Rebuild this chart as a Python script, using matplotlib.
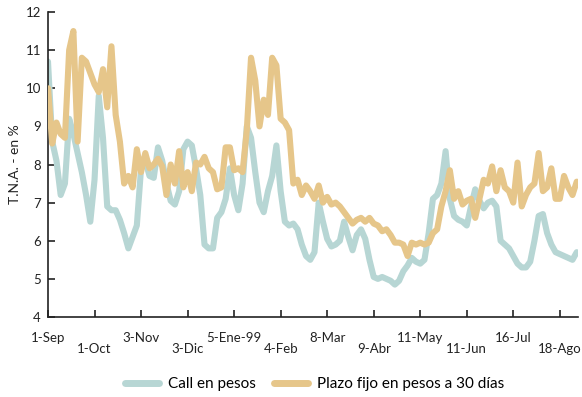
import matplotlib
matplotlib.use("Agg")
import matplotlib.pyplot as plt
import numpy as np

plt.rcParams['font.family'] = ['Lato', 'DejaVu Sans']

tick_labels = ["1-Sep", "1-Oct", "3-Nov", "3-Dic", "5-Ene-99", "4-Feb",
               "8-Mar", "9-Abr", "11-May", "11-Jun", "16-Jul", "18-Ago"]
samples_per_tick = 11

call_pesos = [
    10.7, 8.6, 8.1, 7.2, 7.5, 9.2, 8.8, 8.3, 7.8, 7.2,
    6.5, 7.6, 9.8, 8.7, 6.9, 6.8, 6.8, 6.55, 6.2, 5.8,
    6.1, 6.4, 7.9, 8.1, 7.7, 7.65, 8.45, 8.1, 7.5, 7.05,
    6.95, 7.3, 8.4, 8.6, 8.5, 7.9, 7.2, 5.9, 5.8, 5.8,
    6.6, 6.75, 7.1, 7.9, 7.2, 6.8, 7.5, 9.0, 8.7, 7.8,
    7.0, 6.75, 7.3, 7.7, 8.5, 7.3, 6.5, 6.4, 6.45, 6.3,
    5.9, 5.6, 5.5, 5.7, 7.0, 6.5, 6.05, 5.85, 5.9, 6.0,
    6.5, 6.1, 5.75, 6.15, 6.3, 6.05, 5.5, 5.05, 5.0, 5.05,
    5.0, 4.95, 4.85, 4.95, 5.2, 5.35, 5.55, 5.45, 5.4, 5.5,
    6.2, 7.1, 7.2, 7.5, 8.35, 7.1, 6.65, 6.55, 6.5, 6.4,
    6.9, 7.35, 7.05, 6.85, 7.0, 7.05, 6.9, 6.0, 5.9, 5.8,
    5.6, 5.4, 5.3, 5.3, 5.45, 6.0, 6.65, 6.7, 6.2, 5.9,
    5.7, 5.65, 5.6, 5.55, 5.5, 5.7,
]

plazo_fijo = [
    10.0, 8.55, 9.1, 8.8, 8.7, 11.0, 11.5, 8.6, 10.8, 10.7,
    10.4, 10.1, 9.9, 10.5, 9.5, 11.1, 9.3, 8.6, 7.5, 7.7,
    7.4, 8.4, 7.8, 8.3, 7.9, 8.0, 8.15, 7.95, 7.2, 8.0,
    7.5, 8.35, 7.4, 7.8, 7.3, 8.05, 8.0, 8.2, 7.9, 7.8,
    7.35, 7.4, 8.45, 8.45, 7.85, 7.9, 7.8, 8.9, 10.8, 10.2,
    9.0, 9.7, 9.3, 10.8, 10.6, 9.2, 9.1, 8.9, 7.5, 7.6,
    7.2, 7.45, 7.3, 7.1, 7.45, 7.0, 7.15, 6.95, 7.0, 6.9,
    6.75, 6.6, 6.45, 6.55, 6.6, 6.5, 6.6, 6.45, 6.4, 6.25,
    6.3, 6.15, 5.95, 5.95, 5.9, 5.6, 5.95, 5.9, 5.95, 5.9,
    5.95, 6.2, 6.3, 6.9, 7.3, 7.85, 7.1, 7.3, 6.95, 7.05,
    7.1, 6.6, 7.1, 7.6, 7.5, 7.95, 7.3, 7.85, 7.4, 7.3,
    7.0, 8.05, 6.9, 7.2, 7.4, 7.5, 8.3, 7.3, 7.4, 7.9,
    7.1, 7.1, 7.7, 7.4, 7.2, 7.55,
]

call_color = "#b7d6d4"
plazo_color = "#e6c68a"

fig = plt.figure(figsize=(5.82, 3.97), dpi=100)
ax = fig.add_axes([48/582, 80/397, 530/582, 305/397])

x_call = np.arange(len(call_pesos))
x_plazo = np.arange(len(plazo_fijo))
ax.plot(x_call, call_pesos, color=call_color, lw=4.4, solid_joinstyle='round',
        solid_capstyle='round', label="Call en pesos", zorder=2)
ax.plot(x_plazo, plazo_fijo, color=plazo_color, lw=4.4, solid_joinstyle='round',
        solid_capstyle='round', label="Plazo fijo en pesos a 30 días", zorder=3)

ax.set_ylim(4, 12)
ax.set_yticks(range(4, 13))
ax.set_xlim(0, 125.3)

pos = [i * samples_per_tick for i in range(len(tick_labels))]
ax.set_xticks(pos[0::2])
ax.set_xticklabels(tick_labels[0::2])
ax.set_xticks(pos[1::2], minor=True)
ax.set_xticklabels(tick_labels[1::2], minor=True)

for s in ["top", "right"]:
    ax.spines[s].set_visible(False)
for s in ["left", "bottom"]:
    ax.spines[s].set_linewidth(1.2)
    ax.spines[s].set_color("#222222")

ax.tick_params(axis='x', which='major', direction='in', length=5, width=1.2,
               pad=11, labelsize=9.5, colors="#222222")
ax.tick_params(axis='x', which='minor', direction='in', length=5, width=1.2,
               pad=19, labelsize=9.5, colors="#222222")
ax.tick_params(axis='y', direction='in', length=5, width=1.2, pad=5,
               labelsize=9.5, colors="#222222")

ax.set_ylabel("T.N.A. - en %", fontsize=10, color="#222222")
ax.yaxis.set_label_coords(-0.051, 0.5)

leg = fig.legend(loc='center', bbox_to_anchor=(0.541, 0.032), ncol=2,
                 frameon=False, fontsize=11, handlelength=2.2,
                 columnspacing=1.2, handletextpad=0.6)
for line in leg.get_lines():
    line.set_linewidth(5)

fig.savefig("out.png", dpi=100)
